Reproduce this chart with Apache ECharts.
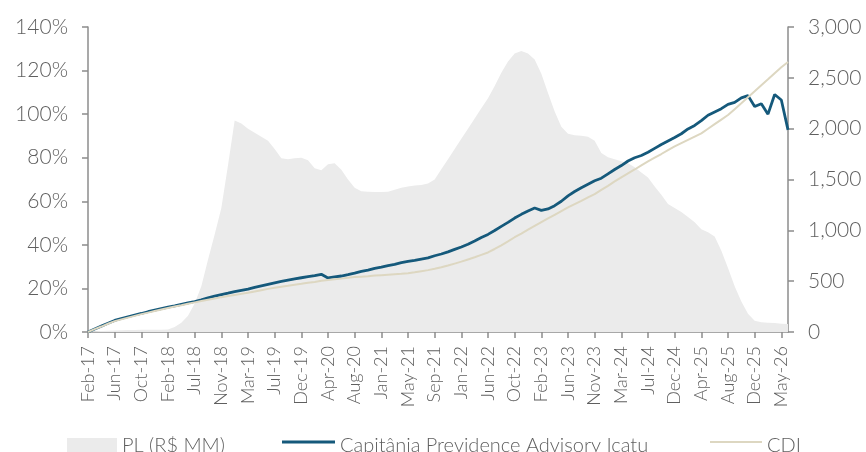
<!DOCTYPE html>
<html lang="pt">
<head>
    <meta charset="UTF-8">
    <title>PL x Capitânia x CDI</title>
    <script src="https://cdn.jsdelivr.net/npm/echarts@6/dist/echarts.min.js"></script>
    <style>
        html, body { margin: 0; padding: 0; background: #fff; }
    </style>
</head>
<body>
    <div id="main" style="width: 866px;height: 452px;"></div>

    <script>
        // rótulos do eixo x (um a cada 4 pontos)
        var tickLabels = ['Feb-17', 'Jun-17', 'Oct-17', 'Feb-18', 'Jul-18', 'Nov-18', 'Mar-19', 'Jul-19', 'Dec-19',
            'Apr-20', 'Aug-20', 'Jan-21', 'May-21', 'Sep-21', 'Jan-22', 'Jun-22', 'Oct-22', 'Feb-23', 'Jun-23',
            'Nov-23', 'Mar-24', 'Jul-24', 'Dec-24', 'Apr-25', 'Aug-25', 'Dec-25', 'May-26'];

        // PL (R$ MM) - eixo direito
        var plData = [5, 8, 10, 12, 15, 17, 19, 20, 21, 22, 22, 23,
            25, 50, 90, 160, 280, 450, 710, 960, 1220, 1640, 2080, 2050,
            2000, 1960, 1920, 1880, 1800, 1710, 1700, 1710, 1715, 1690, 1610, 1590,
            1650, 1660, 1595, 1500, 1420, 1385, 1380, 1378, 1378, 1380, 1400, 1420,
            1430, 1440, 1445, 1460, 1500, 1600, 1700, 1800, 1900, 2000, 2100, 2200,
            2300, 2420, 2550, 2660, 2740, 2765, 2740, 2680, 2540, 2350, 2170, 2020,
            1950, 1935, 1930, 1920, 1880, 1760, 1720, 1700, 1680, 1660, 1620, 1570,
            1520, 1430, 1350, 1260, 1220, 1180, 1130, 1080, 1010, 980, 940, 800,
            630, 450, 300, 180, 110, 95, 92, 88, 82, 78];

        // Capitânia Previdence Advisory Icatu (%)
        var fundData = [0, 1.4, 2.7, 4.0, 5.3, 6.2, 7.0, 7.8, 8.5, 9.3, 10.0, 10.7,
            11.4, 12.0, 12.7, 13.4, 14.0, 14.8, 15.7, 16.5, 17.2, 17.8, 18.5, 19.1,
            19.7, 20.5, 21.2, 21.9, 22.6, 23.2, 23.8, 24.4, 24.9, 25.4, 25.9, 26.5,
            24.8, 25.3, 25.7, 26.3, 27.0, 27.8, 28.4, 29.2, 29.8, 30.5, 31.0, 31.8,
            32.4, 32.9, 33.5, 34.0, 35.0, 35.8, 36.8, 37.9, 39.0, 40.3, 41.8, 43.4,
            44.8, 46.6, 48.5, 50.3, 52.3, 54.0, 55.5, 56.9, 55.8, 56.5, 58.0, 60.0,
            62.5, 64.5, 66.2, 67.8, 69.4, 70.6, 72.6, 74.6, 76.4, 78.5, 80.0, 81.0,
            82.5, 84.3, 86.1, 87.7, 89.3, 91.0, 93.2, 94.8, 97.0, 99.5, 101.0, 102.5,
            104.5, 105.4, 107.5, 108.5, 103.5, 104.8, 100.0, 109.0, 106.5, 92.8];

        // CDI (%)
        var cdiData = [0, 1.3, 2.5, 3.8, 5.0, 5.8, 6.6, 7.4, 8.2, 8.9, 9.6, 10.3,
            11.0, 11.7, 12.3, 13.0, 13.6, 14.2, 14.8, 15.4, 16.0, 16.5, 17.0, 17.5,
            18.0, 18.6, 19.2, 19.8, 20.3, 20.8, 21.2, 21.7, 22.1, 22.6, 23.0, 23.5,
            23.9, 24.2, 24.5, 24.9, 25.2, 25.4, 25.6, 25.9, 26.1, 26.3, 26.5, 26.7,
            27.0, 27.4, 27.9, 28.4, 29.0, 29.7, 30.5, 31.4, 32.3, 33.3, 34.3, 35.4,
            36.5, 38.1, 39.8, 41.6, 43.5, 45.2, 47.0, 48.7, 50.4, 52.1, 53.8, 55.5,
            57.2, 58.7, 60.2, 61.8, 63.3, 65.2, 67.1, 69.1, 71.0, 72.8, 74.6, 76.5,
            78.3, 80.0, 81.7, 83.5, 85.2, 86.7, 88.2, 89.7, 91.2, 93.3, 95.4, 97.5,
            99.6, 102.3, 105.0, 107.8, 110.5, 113.3, 116.0, 118.8, 121.5, 123.9];

        var font = 'Lato';
        var textColor = '#5f5f5f';
        var axisColor = '#8c8c8c';

        // categorias: rótulo a cada 4 pontos
        var categories = [];
        for (var i = 0; i < plData.length; i++) {
            categories.push(i % 4 === 0 ? tickLabels[i / 4] : '');
        }

        var myChart = echarts.init(document.getElementById('main'));

        var legendText = { color: textColor, fontFamily: font, fontSize: 20, fontWeight: 300 };

        var option = {
            animation: false,
            grid: { left: 88, right: 78, top: 27, bottom: 120 },
            legend: [
                {
                    data: [{ name: 'PL (R$ MM)', icon: 'rect' }],
                    left: 62, top: 431, itemWidth: 50, itemHeight: 16,
                    itemStyle: { borderWidth: 0 },
                    textStyle: legendText
                },
                {
                    // linha um pouco acima do centro do texto
                    data: [{ name: 'Capitânia Previdence Advisory Icatu', icon: 'path://M0,0L53,0L53,3L0,3ZM0,11L53,11' }],
                    left: 277, top: 431, itemWidth: 53, itemHeight: 11,
                    itemStyle: { borderWidth: 0 },
                    textStyle: legendText
                },
                {
                    data: [{ name: 'CDI', icon: 'path://M0,0L52,0L52,2L0,2ZM0,10L52,10' }],
                    left: 705, top: 431, itemWidth: 52, itemHeight: 10,
                    itemStyle: { borderWidth: 0 },
                    textStyle: legendText
                }
            ],
            xAxis: {
                type: 'category',
                data: categories,
                boundaryGap: false,
                axisLine: { lineStyle: { color: axisColor, width: 1.5 } },
                axisTick: { interval: 3, length: 6, lineStyle: { color: axisColor, width: 1.5 } },
                axisLabel: {
                    interval: 3, rotate: 90, margin: 14,
                    color: textColor, fontFamily: font, fontSize: 18, fontWeight: 300
                },
                splitLine: { show: false }
            },
            yAxis: [
                {
                    type: 'value', min: 0, max: 140, interval: 20,
                    axisLine: { show: true, lineStyle: { color: axisColor, width: 1.5 } },
                    axisTick: { show: true, length: 6, lineStyle: { color: axisColor, width: 1.5 } },
                    axisLabel: {
                        formatter: '{value}%', margin: 20,
                        color: textColor, fontFamily: font, fontSize: 21, fontWeight: 300
                    },
                    splitLine: { show: false }
                },
                {
                    type: 'value', min: 0, max: 3000, interval: 500, position: 'right',
                    axisLine: { show: true, lineStyle: { color: axisColor, width: 1.5 } },
                    axisTick: { show: true, length: 6, lineStyle: { color: axisColor, width: 1.5 } },
                    axisLabel: {
                        formatter: function (v) { return v.toLocaleString('en-US'); },
                        margin: 20,
                        color: textColor, fontFamily: font, fontSize: 21, fontWeight: 300
                    },
                    splitLine: { show: false }
                }
            ],
            series: [
                {
                    name: 'PL (R$ MM)',
                    type: 'line',
                    yAxisIndex: 1,
                    data: plData,
                    symbol: 'none',
                    lineStyle: { width: 0 },
                    itemStyle: { color: '#ebebeb' },
                    areaStyle: { color: '#ebebeb', opacity: 1 }
                },
                {
                    name: 'Capitânia Previdence Advisory Icatu',
                    type: 'line',
                    data: fundData,
                    symbol: 'none',
                    itemStyle: { color: '#15597b' },
                    lineStyle: { color: '#15597b', width: 2.8 }
                },
                {
                    name: 'CDI',
                    type: 'line',
                    data: cdiData,
                    symbol: 'none',
                    itemStyle: { color: '#ddd7c1' },
                    lineStyle: { color: '#ddd7c1', width: 2 }
                }
            ]
        };

        myChart.setOption(option);
    </script>
</body>
</html>
